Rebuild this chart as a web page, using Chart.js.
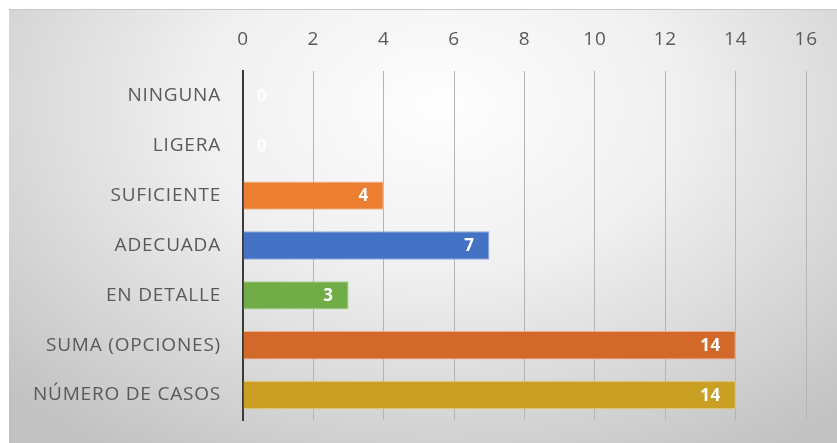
<!DOCTYPE html>
<html>
<head>
<meta charset="utf-8">
<script src="https://cdn.jsdelivr.net/npm/chart.js@4"></script>
<style>
  html, body { margin: 0; padding: 0; background: #fff; overflow: hidden; }
  #bg {
    position: absolute; left: 9px; top: 9px; width: 828px; height: 434px;
    border-top: 1px solid #c8c8c8;
    background: radial-gradient(ellipse 72% 95% at 52% 22%, #fefefe 0%, #f0f0f0 40%, #d8d8d8 72%, #c2c2c2 100%);
  }
  #barChart { position: absolute; left: 0; top: 0; }
</style>
</head>
<body>
<div id="bg"></div>
<canvas id="barChart" width="837" height="443"></canvas>
<script>
const categories = ['NINGUNA', 'LIGERA', 'SUFICIENTE', 'ADECUADA', 'EN DETALLE', 'SUMA (OPCIONES)', 'NÚMERO DE CASOS'];
const values = [0, 0, 4, 7, 3, 14, 14];
const barColors = ['#a5a5a5', '#ffc000', '#ed7d31', '#4472c4', '#70ad47', '#d2692a', '#c9a024'];
const borderColors = ['#c8c8c8', '#ffe08a', '#f6b58a', '#8fa9dc', '#a7cf8c', '#eeb08c', '#e6cf80'];
const xMin = 0, xMax = 16, xStep = 2;

const FONT = "'Open Sans', sans-serif";

// white value labels near the end of each bar
const valueLabels = {
  id: 'valueLabels',
  afterDatasetsDraw(chart) {
    const ctx = chart.ctx;
    const meta = chart.getDatasetMeta(0);
    ctx.save();
    ctx.letterSpacing = '0.5px';
    ctx.font = 'bold 17px ' + FONT;
    ctx.fillStyle = '#ffffff';
    ctx.textBaseline = 'middle';
    meta.data.forEach((bar, i) => {
      const v = values[i];
      if (v > 0) {
        ctx.textAlign = 'right';
        ctx.fillText(String(v), bar.x - 15, bar.y + 1);
      } else {
        ctx.textAlign = 'left';
        ctx.globalAlpha = 0.8;
        ctx.fillText(String(v), bar.base + 14, bar.y + 1);
        ctx.globalAlpha = 1;
      }
    });
    ctx.restore();
  }
};

const spacing = {
  id: 'spacing',
  beforeInit(chart) { chart.ctx.letterSpacing = '0.8px'; },
  beforeDraw(chart) { chart.ctx.letterSpacing = '0.8px'; }
};

const ctx = document.getElementById('barChart');
new Chart(ctx, {
  type: 'bar',
  data: {
    labels: categories,
    datasets: [{
      data: values,
      backgroundColor: barColors,
      borderColor: borderColors,
      borderWidth: 1,
      borderSkipped: 'start',
      barPercentage: 0.57,
      categoryPercentage: 1
    }]
  },
  plugins: [spacing, valueLabels],
  options: {
    indexAxis: 'y',
    responsive: false,
    animation: false,
    layout: { padding: { left: 0, right: 29, top: 0, bottom: 23 } },
    plugins: { legend: { display: false }, tooltip: { enabled: false } },
    scales: {
      x: {
        position: 'top',
        min: xMin,
        max: xMax,
        ticks: {
          stepSize: xStep,
          padding: 20,
          color: '#595959',
          font: { family: FONT, size: 19 }
        },
        grid: { color: '#b4b4b4', lineWidth: 1, drawTicks: false },
        border: { display: false },
        afterFit(scale) { scale.height = 71; }
      },
      y: {
        ticks: {
          padding: 22,
          color: '#595959',
          font: { family: FONT, size: 19 }
        },
        grid: { display: false, drawTicks: false },
        border: { display: true, color: '#3a3a3a', width: 2 },
        afterFit(scale) {
          scale.width = 243;
          scale.paddingTop = 0;
          scale.paddingBottom = 0;
        }
      }
    }
  }
});
</script>
</body>
</html>
